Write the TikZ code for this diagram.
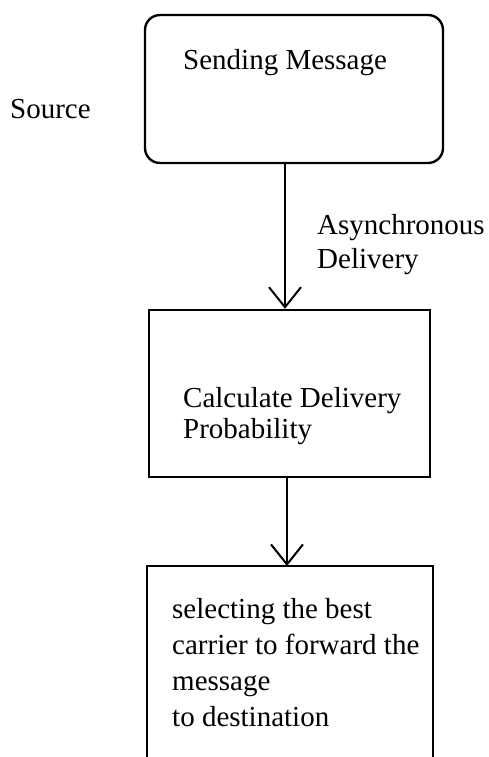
\documentclass[tikz,border=0pt]{standalone}
\usepackage{fontspec}
\setmainfont{Liberation Serif}
\usetikzlibrary{arrows.meta}
\begin{document}
\begin{tikzpicture}[x=1pt,y=-1pt,
  box/.style={draw,line width=2.4pt,inner sep=0pt},
  lbl/.style={inner sep=0pt,font=\fontsize{29}{33}\selectfont,align=left},
  conn/.style={line width=2.2pt,-{Straight Barb[length=20pt,width=32pt,line width=2pt]}}]
\useasboundingbox (0,0) rectangle (488,757);
% boxes
\node[box,rounded corners=15pt,minimum width=298pt,minimum height=148pt] (send) at (294,89) {};
\node[box,minimum width=281pt,minimum height=167pt] (calc) at (289.5,393.5) {};
\coordinate (selTL) at (147,566);
\coordinate (selTR) at (433,566);
\coordinate (selBL) at (147,760);
\coordinate (selBR) at (433,760);
\coordinate (selTop) at (287,566);
\draw[line width=2.4pt] (selBL) -- (selTL) -- (selTR) -- (selBR);
% texts
\node[lbl,anchor=base west] (tsend) at (183,70) {Sending Message};
\node[lbl,anchor=base west] (src) at (10,118) {Source};
\node[lbl,anchor=north west,font=\fontsize{29}{34}\selectfont] (async) at (317,214) {Asynchronous\\Delivery};
\node[lbl,anchor=north west,font=\fontsize{29}{31}\selectfont] (tcalc) at (183,387) {Calculate Delivery\\Probability};
\node[lbl,anchor=north west,font=\fontsize{29}{36}\selectfont] (tsel) at (172,598) {selecting the best\\carrier to forward the\\message\\to destination};
% connectors
\draw[conn] (send.south -| 285,0) -- (calc.north -| 285,0);
\draw[conn] (calc.south -| selTop) -- (selTop);
\end{tikzpicture}
\end{document}
